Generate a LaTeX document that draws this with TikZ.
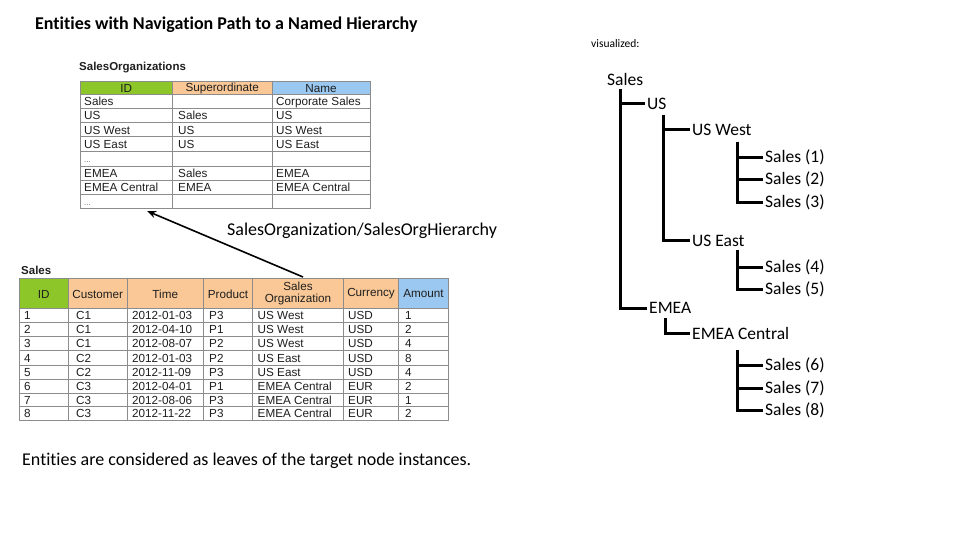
\documentclass[tikz,border=0pt]{standalone}
\usepackage{fontspec}
\setmainfont{Carlito}[Ligatures=NoCommon]
\newfontfamily\arialf{Liberation Sans}
\usetikzlibrary{arrows.meta}
\definecolor{hgreen}{RGB}{140,198,40}
\definecolor{horange}{RGB}{250,200,150}
\definecolor{hblue}{RGB}{155,200,240}
\definecolor{gridc}{RGB}{140,140,140}
\definecolor{celltxt}{RGB}{30,30,30}
\newcommand\tcell[3]{\node[cell] at (#1,#2) {#3};}
\begin{document}
\begin{tikzpicture}[x=1pt,y=-1pt,
  tree/.style={line width=3pt},
  treelbl/.style={anchor=west,inner sep=2pt,font=\fontsize{17.5}{20}\selectfont},
  cell/.style={anchor=base west,yshift=-4.3pt,inner sep=0pt,font=\arialf\fontsize{11.7}{12}\selectfont,text=celltxt},
  hdr/.style={anchor=center,inner sep=0pt,align=center,font=\arialf\fontsize{11.7}{12.5}\selectfont,text=celltxt},
  grid/.style={draw=gridc,line width=0.7pt},
  ttl/.style={anchor=west,inner sep=0pt,font=\arialf\bfseries\fontsize{11.5}{13}\selectfont,text=celltxt},
  txt/.style={anchor=west,inner sep=0pt,font=\fontsize{18}{21}\selectfont}]
\useasboundingbox (0,0) rectangle (960,540);

% titles
\node[txt,font=\bfseries\fontsize{18}{21}\selectfont] (title) at (35,25) {Entities with Navigation Path to a Named Hierarchy};
\node[txt,font=\fontsize{11.5}{13}\selectfont] (vis) at (591,44) {visualized:};
\node[txt] (bottom) at (22,461) {Entities are considered as leaves of the target node instances.};
\node[txt] (navlbl) at (227,231) {SalesOrganization/SalesOrgHierarchy};

% ---------- Table SalesOrganizations ----------
\node[ttl] (t1title) at (79,68) {SalesOrganizations};
\fill[hgreen] (80,81) rectangle (172.5,94.5);
\fill[horange] (172.5,81) rectangle (272,94.5);
\fill[hblue] (272,81) rectangle (370,94.5);
\foreach \y in {81,94.5,108.5,122.7,136.8,151.5,166,180.5,194.8,208.5}
  \draw[grid] (80,\y) -- (370,\y);
\foreach \x in {80,172.5,272,370}
  \draw[grid] (\x,81) -- (\x,208.5);
\node[hdr] at (126.25,88.5) {ID};
\node[hdr] at (222.25,88.5) {Superordinate};
\node[hdr] at (321,88.5) {Name};
\tcell{84}{101.5}{Sales}\tcell{276}{101.5}{Corporate Sales}
\tcell{84}{115.6}{US}\tcell{178}{115.6}{Sales}\tcell{276}{115.6}{US}
\tcell{84}{129.8}{US West}\tcell{178}{129.8}{US}\tcell{276}{129.8}{US West}
\tcell{84}{144.1}{US East}\tcell{178}{144.1}{US}\tcell{276}{144.1}{US East}
\node[cell,text=black!60,font=\arialf\fontsize{8}{9}\selectfont] at (84,158.7) {...};
\tcell{84}{173.2}{EMEA}\tcell{178}{173.2}{Sales}\tcell{276}{173.2}{EMEA}
\tcell{84}{187.6}{EMEA Central}\tcell{178}{187.6}{EMEA}\tcell{276}{187.6}{EMEA Central}
\node[cell,text=black!60,font=\arialf\fontsize{8}{9}\selectfont] at (84,201.6) {...};
\coordinate (t1bot) at (147,211);

% ---------- Table Sales ----------
\node[ttl] (t2title) at (21,270) {Sales};
\fill[hgreen] (19,278.5) rectangle (68.5,308.5);
\fill[horange] (68.5,278.5) rectangle (398.5,308.5);
\fill[hblue] (398.5,278.5) rectangle (448.5,308.5);
\foreach \y in {278.5,308.5,322,336,350.5,365,379.3,393.3,406.8,420.5}
  \draw[grid] (19,\y) -- (448.5,\y);
\foreach \x in {19,68.5,127,203.5,252.5,343.5,398.5,448.5}
  \draw[grid] (\x,278.5) -- (\x,420.5);
\node[hdr] at (43.75,294) {ID};
\node[hdr] at (97.75,294) {Customer};
\node[hdr] at (165.25,294) {Time};
\node[hdr] at (228,294) {Product};
\node[hdr] at (298,293.5) {Sales\\Organization};
\node[hdr] at (371,294) {Currency};
\node[hdr] at (423.5,294) {Amount};
\foreach \y/\id/\cu/\ti/\pr/\so/\cur/\am in {
  315.2/1/C1/2012-01-03/P3/US West/USD/1,
  329/2/C1/2012-04-10/P1/US West/USD/2,
  343.2/3/C1/2012-08-07/P2/US West/USD/4,
  357.7/4/C2/2012-01-03/P2/US East/USD/8,
  372.1/5/C2/2012-11-09/P3/US East/USD/4,
  386.3/6/C3/2012-04-01/P1/EMEA Central/EUR/2,
  400/7/C3/2012-08-06/P3/EMEA Central/EUR/1,
  413.6/8/C3/2012-11-22/P3/EMEA Central/EUR/2}{
  \tcell{24}{\y}{\id}\tcell{76}{\y}{\cu}\tcell{132}{\y}{\ti}
  \tcell{209}{\y}{\pr}\tcell{257.5}{\y}{\so}\tcell{348}{\y}{\cur}\tcell{405}{\y}{\am}
}
\coordinate (t2top) at (303,277);

% navigation arrow
\draw[-{Stealth[length=9pt,width=7pt]}, line width=1.6pt] (t2top) -- (t1bot);

% ---------- Tree ----------
\node[treelbl] (sales) at (605,79) {Sales};
\node[treelbl] (us) at (645,103.5) {US};
\node[treelbl] (usw) at (690,130) {US West};
\node[treelbl] (s1) at (763,157.7) {Sales (1)};
\node[treelbl] (s2) at (763,179.5) {Sales (2)};
\node[treelbl] (s3) at (763,202.3) {Sales (3)};
\node[treelbl] (use) at (690,240.5) {US East};
\node[treelbl] (s4) at (763,267.7) {Sales (4)};
\node[treelbl] (s5) at (763,289) {Sales (5)};
\node[treelbl] (emea) at (647,308.3) {EMEA};
\node[treelbl] (emeac) at (690,333.5) {EMEA Central};
\node[treelbl] (s6) at (763,365.7) {Sales (6)};
\node[treelbl] (s7) at (763,388.3) {Sales (7)};
\node[treelbl] (s8) at (763,410) {Sales (8)};

\coordinate (tr0) at (620,89.5);
\coordinate (tr1) at (663,115);
\coordinate (tr2) at (737,141.7);
\coordinate (tr3) at (737,250);
\coordinate (tr4) at (665,318);
\coordinate (tr5) at (737,350);
\draw[tree] (tr0) |- (us.west);
\draw[tree] (tr0) |- (emea.west);
\draw[tree] (tr1) |- (usw.west);
\draw[tree] (tr1) |- (use.west);
\draw[tree] (tr2) |- (s1.west);
\draw[tree] (tr2) |- (s2.west);
\draw[tree] (tr2) |- (s3.west);
\draw[tree] (tr3) |- (s4.west);
\draw[tree] (tr3) |- (s5.west);
\draw[tree] (tr4) |- (emeac.west);
\draw[tree] (tr5) |- (s6.west);
\draw[tree] (tr5) |- (s7.west);
\draw[tree] (tr5) |- (s8.west);
\end{tikzpicture}
\end{document}
